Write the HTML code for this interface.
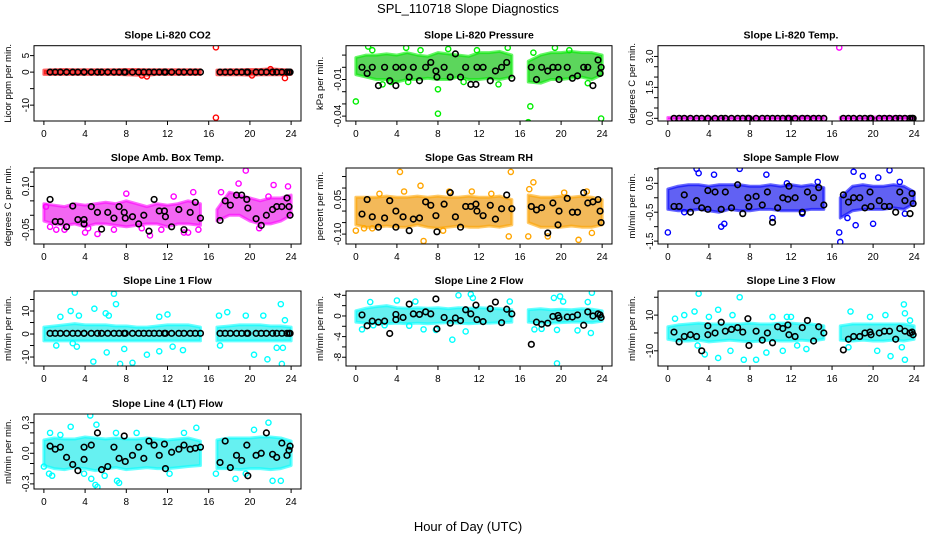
<!DOCTYPE html>
<html><head><meta charset="utf-8"><style>
body{margin:0;background:#fff}
svg{display:block;font-family:"Liberation Sans",sans-serif}
</style></head><body>
<svg id="c" width="936" height="540" viewBox="0 0 936 540">
<text x="468" y="13" text-anchor="middle" font-size="13">SPL_110718  Slope Diagnostics</text>
<text x="468" y="531" text-anchor="middle" font-size="13">Hour of Day (UTC)</text>
</svg>
<script>
// shared hours
const H1 = [0,1,2,3,4,5,6,7,8,9,10,11,12,13,14,15.2];
const H2 = [16.8,18,19,20,21,22,23,24];
const BX = [0.6,1.1,1.6,2.2,2.8,3.3,3.9,3.9,4.6,5.2,5.6,6.2,6.8,7.3,7.8,7.9,8.6,9.2,9.7,10.2,10.7,11.2,11.7,11.8,12.4,13.1,13.6,14.2,14.7,15.2,17.1,17.6,18.1,18.7,19.2,19.7,19.8,20.6,21.1,21.6,22.2,22.6,23.1,23.6,23.8,23.9];
const xTicks = [0,4,8,12,16,20,24];

// Panel 1 CO2
const p1Lo1 = [-0.7,-0.7,-0.7,-0.7,-0.7,-0.7,-0.7,-0.7,-0.8,-0.9,-0.9,-0.7,-0.7,-0.7,-0.7,-0.7];
const p1Hi1 = [0.6,0.7,0.8,0.7,0.7,0.7,0.7,0.7,0.8,0.8,0.7,0.7,0.7,0.7,0.7,0.7];
const p1Lo2 = [-0.8,-0.8,-0.8,-0.9,-0.8,-0.8,-0.8,-0.7];
const p1Hi2 = [0.6,0.7,0.7,0.8,0.8,1.0,0.8,0.6];
const p1OX = [16.7,16.7,23.4,10,22,20.2,9.5];
const p1OY = [7.5,-13.8,-1.8,-1.3,0.9,-1.0,-1.0];
const p1BY = BX.map(()=>0);

// Panel 2 Pressure
const p2Lo1 = [-0.006,-0.008,-0.01,-0.01,-0.012,-0.01,-0.01,-0.009,-0.01,-0.01,-0.008,-0.01,-0.01,-0.009,-0.01,-0.008];
const p2Hi1 = [0.008,0.01,0.01,0.011,0.01,0.012,0.01,0.009,0.012,0.011,0.01,0.009,0.012,0.012,0.013,0.01];
const p2Lo2 = [-0.012,-0.013,-0.01,-0.01,-0.009,-0.008,-0.01,-0.006];
const p2Hi2 = [0.005,0.01,0.012,0.012,0.013,0.012,0.012,0.01];
const p2OX = [0,8,8,16.8,17,23.9,1.2,4.9,14.8,19.4,1.6,6.3,9,11.8,17.3,20.8,2.6,13.9,22.6,5.1,3.4,10.5];
const p2OY = [-0.028,-0.038,-0.018,-0.045,-0.032,-0.042,0.017,0.016,0.016,0.016,0.014,0.014,0.015,0.014,0.012,0.014,-0.014,-0.014,-0.013,-0.012,-0.012,-0.012];
const p2BY = [0,-0.005,0,-0.015,0,-0.011,0,-0.015,0,-0.008,0,-0.011,0,0.004,-0.003,-0.008,0,-0.008,0.011,-0.008,0,-0.014,-0.014,0,0,-0.011,-0.003,0,0.004,-0.009,0,-0.01,0,-0.003,0,0,-0.01,0,-0.009,-0.007,0,0,-0.015,0.006,-0.005,0];

// Panel 3 Temp
const p3Lo1 = H1.map(()=>-0.04);
const p3Hi1 = [0.04,0.06,0.06,0.05,0.05,0.05,0.05,0.05,0.05,0.05,0.05,0.06,0.08,0.08,0.08,0.06];
const p3Lo2 = H2.map(()=>-0.04);
const p3Hi2 = [0.05,0.05,0.05,0.06,0.08,0.08,0.08,0.06];
const p3OX = [16.7];
const p3OY = [3.43];
const p3BY = BX.map(()=>0);

// Panel 4 Amb Box Temp
const p4Lo1 = [-0.02,-0.03,-0.035,-0.03,-0.04,-0.03,-0.03,-0.035,-0.04,-0.035,-0.03,-0.03,-0.04,-0.03,-0.03,-0.035];
const p4Hi1 = [0.04,0.035,0.03,0.04,0.035,0.04,0.045,0.04,0.05,0.04,0.03,0.04,0.035,0.04,0.05,0.04];
const p4Lo2 = [-0.02,0.0,0.0,-0.02,-0.03,-0.03,-0.02,0.0];
const p4Hi2 = [0.02,0.08,0.07,0.06,0.05,0.06,0.06,0.07];
const p4OX = [19.6,10.3,5.2,4,14,13.6,18.9,22.3,23.7,2,0.2,0.6,8,12.6,14.5,17.2,20.9,15,4.3,9.5,1.2,6.8,11.4,21.8];
const p4OY = [0.155,-0.07,-0.065,-0.06,-0.06,-0.06,0.11,0.105,0.10,-0.05,0.03,-0.04,0.075,0.065,0.08,0.08,-0.045,-0.05,-0.045,-0.045,-0.05,-0.05,-0.05,0.065];
const p4BY = [0.055,-0.022,-0.022,-0.04,0.032,-0.015,-0.015,-0.03,0.03,0.01,-0.048,0.01,-0.01,0.03,0.01,-0.01,-0.005,-0.03,0.0,-0.055,0.055,0.015,0.015,-0.005,-0.04,0.02,-0.05,0.01,0.045,-0.01,-0.018,0.05,0.035,0.07,0.07,0.055,0.025,-0.012,-0.035,0.0,0.02,0.03,0.03,0.06,0.03,0.0];

// Panel 5 Gas Stream RH
const p5Lo1 = [-0.06,-0.07,-0.07,-0.065,-0.07,-0.07,-0.06,-0.07,-0.075,-0.07,-0.065,-0.07,-0.07,-0.065,-0.07,-0.06];
const p5Hi1 = [0.06,0.06,0.06,0.065,0.06,0.06,0.065,0.06,0.065,0.06,0.06,0.065,0.06,0.06,0.065,0.05];
const p5Lo2 = [-0.05,-0.07,-0.07,-0.07,-0.065,-0.07,-0.07,-0.06];
const p5Hi2 = [0.07,0.06,0.06,0.065,0.06,0.065,0.06,0.05];
const p5OX = [4.3,15.1,6.3,17.3,16.9,4.7,11.3,6.6,21.7,14.9,16.8,0,0.8,23,18.7,1.6,9.1,2.3,13.2,20.3,22.5,8.5];
const p5OY = [0.17,0.17,0.11,0.125,0.095,0.085,0.085,-0.13,-0.125,-0.11,-0.11,-0.085,-0.075,-0.095,-0.11,-0.075,0.085,0.075,0.075,0.08,0.085,-0.085];
const p5BY = [-0.013,0.05,-0.025,-0.07,-0.03,0.045,0.0,-0.07,-0.025,-0.085,-0.035,-0.03,0.04,0.025,-0.02,-0.09,0.03,0.08,-0.025,-0.07,0.02,0.02,0.03,0.0,-0.02,0.025,-0.035,0.01,0.07,0.01,0.02,0.005,0.015,-0.095,0.035,-0.06,0.0,0.055,-0.005,-0.005,0.08,0.035,0.04,0.05,0.0,-0.05];

// Panel 6 Sample Flow
const p6Lo1 = [-0.4,-0.45,-0.45,-0.4,-0.45,-0.5,-0.4,-0.45,-0.45,-0.4,-0.4,-0.45,-0.45,-0.45,-0.4,-0.4];
const p6Hi1 = [0.3,0.4,0.45,0.45,0.4,0.45,0.45,0.45,0.4,0.4,0.45,0.4,0.45,0.4,0.45,0.35];
const p6Lo2 = [-0.7,-0.45,-0.4,-0.4,-0.4,-0.35,-0.4,-0.2];
const p6Hi2 = [0.0,0.4,0.45,0.4,0.4,0.45,0.4,0.2];
const p6OX = [0,16.7,16.8,5.2,5.5,2.8,7,21.6,18.1,20,18.3,9.6,10.2,19,20.5,17.5,4.5,1.6,13.1,3,11.6,14.6,22.6,23.1];
const p6OY = [-1.2,-1.2,-1.53,-1.0,-0.9,1.0,1.0,0.95,0.9,-0.9,-0.95,0.8,-0.7,0.75,0.7,-0.7,0.8,-0.5,-0.55,0.85,0.5,0.55,0.55,-0.55];
const p6BY = [-0.3,-0.3,0.1,-0.5,-0.1,-0.35,0.25,-0.4,0.2,-0.4,0.2,-0.35,0.45,-0.55,0.0,-0.3,0.05,-0.25,0.2,-0.85,-0.35,0.0,-0.05,0.4,0.0,-0.5,0.2,0.0,0.35,-0.25,0.1,-0.15,0.0,0.0,-0.35,0.2,-0.3,-0.1,-0.3,-0.3,-0.5,0.2,-0.1,-0.55,0.15,-0.2];

// Panel 7 Line 1 Flow
const p7Lo1 = H1.map(()=>-3);
const p7Hi1 = [3,3.5,4,4.5,4,4,4,3.5,3.5,3,3,3.5,4,4,4,3];
const p7Lo2 = H2.map(()=>-3);
const p7Hi2 = [3,3.5,4,4,4,3.5,3.5,3];
const p7OX = [3,6.8,7,23,2.6,4.9,17.8,12,1.6,3.4,6,6.3,11.2,17,19.6,21.3,23.4,7.4,8.6,4.8,21.7,23.1,20.4,10,11.2,13.5,6.1,23.2,22.6,17.1,12.5,7.8,1.2,3.2,2.8];
const p7OY = [18,17.5,13,13,10,11,9.5,8.5,7.5,8,9,8,7.5,8,8,8,6,-13,-12.5,-12,-11,-13,-9,-9,-7.5,-7,-8,-6,-6,-5,-5.5,-6.5,-5,-5.5,-4];
const p7BY = BX.map(()=>0.3);

// Panel 8 Line 2 Flow
const p8Lo1 = [-1.2,-1.4,-1.5,-1.5,-1.4,-1.5,-1.4,-1.5,-1.4,-1.3,-1.4,-1.5,-1.4,-1.4,-1.3,-1.2];
const p8Hi1 = [1.0,1.5,1.8,2.0,1.6,1.5,1.6,1.5,1.6,1.4,1.6,1.5,1.6,1.5,1.4,1.2];
const p8Lo2 = [-1.2,-1.4,-1.4,-1.3,-1.2,-1.2,-1.3,-1.0];
const p8Hi2 = [1.2,1.4,1.2,1.3,1.2,1.4,1.3,1.0];
const p8OX = [9.4,19.6,23,10,11.2,11.4,1.4,4,5.8,15,19.3,19.9,22.6,20.2,0.6,6.6,7.8,10.7,17.4,18.1,19.6,22.9,21.6,2.8,5.2,1.7];
const p8OY = [-4.6,-9.2,4.5,4,4.2,3.5,2.7,3,2.8,2.8,3.5,3.8,2.7,2.8,-2.6,-2.6,-2.7,-3,-2.6,-2.5,-2.7,-3.3,-2.8,-1.8,-1.9,-1.8];
const p8BY = [0.2,-1.9,-1,-1.2,-1,-3.4,0.3,-0.7,-0.3,2.3,0.4,0.3,0.8,0.4,3.3,-2.5,-0.3,-1.4,-0.4,-0.9,1.2,0.4,2.1,-0.7,-1.1,1.4,2.7,-1.3,1.3,0.4,-5.5,-1.2,-1.6,-1.4,-0.1,0.1,-0.4,-0.2,-0.2,0.2,-1.8,0.8,0.0,0.4,0.2,-0.3];

// Panel 9 Line 3 Flow
const p9Lo1 = [-3.5,-4.5,-4.5,-4,-5,-4.5,-4,-4.5,-5,-4.5,-4,-4.5,-4.5,-4,-4.5,-3.5];
const p9Hi1 = [3.5,4.5,5,5.5,5,5,5,5,5.5,5,5,5.5,5.5,5,5,4];
const p9Lo2 = [-4,-4.5,-4,-4.5,-4.5,-4,-4.5,-3.5];
const p9Hi2 = [4,5,5,5,5,5,5,4];
const p9OX = [3,7,23,23.1,0.7,2.6,4.9,6.3,1.6,17.8,19.7,23.6,4,10.2,12,11.6,21.2,3.6,4.9,7.4,8.6,6.1,9.6,11.2,19.6,21.7,23.1,22.8,20.4,13.5,12.6,17.6,2.9];
const p9OY = [22,20,16,11,8,12,13,10,10,12,9,7,9,9,9,9,10,-12,-14,-15,-15,-10,-11,-10,-20,-13,-15,-8,-10,-9,-7,-8,-7];
const p9BY = [0.5,-5,-2,-1,-2,-10,4,-1,0,6,1,2,3,0.5,8,-7,1,-4,0,-5.5,3.5,2.5,4.5,-1,-2,3,7,-4.5,3.5,0,-9.5,-3.5,-2,-2,0,0.5,-1,0,1,1,-3.5,2.5,1,0,0.5,-1];

// Panel 10 Line 4 (LT) Flow
const p10Lo1 = [-0.12,-0.15,-0.16,-0.14,-0.15,-0.17,-0.15,-0.14,-0.16,-0.15,-0.14,-0.15,-0.15,-0.14,-0.13,-0.12];
const p10Hi1 = [0.13,0.15,0.14,0.14,0.16,0.15,0.14,0.15,0.14,0.14,0.15,0.14,0.13,0.14,0.15,0.12];
const p10Lo2 = [-0.15,-0.15,-0.16,-0.15,-0.15,-0.16,-0.15,-0.12];
const p10Hi2 = [0.13,0.15,0.15,0.15,0.16,0.16,0.15,0.12];
const p10OX = [4.5,5.1,2.6,14.8,0.6,21.8,7,9,13.6,20.4,1.6,5,5.2,4.6,7.1,7.3,0.5,0.8,12.2,16.7,18.6,22.2,23,19.6,0,3.9,5.9];
const p10OY = [0.37,0.28,0.26,0.25,0.2,0.3,0.2,0.2,0.2,0.23,0.18,-0.31,-0.33,-0.25,-0.27,-0.29,-0.2,-0.22,-0.2,-0.2,-0.25,-0.27,-0.27,-0.2,-0.13,-0.2,-0.22];
const p10BY = [0.07,0.04,0.06,-0.04,-0.11,-0.17,0.06,-0.06,0.08,0.2,-0.16,-0.13,0.06,-0.05,0.17,-0.08,-0.02,0.06,-0.05,0.12,0.08,-0.02,0.09,-0.15,0.01,0.04,0.08,0.04,0.05,0.06,-0.09,0.12,-0.14,-0.02,-0.07,0.08,-0.22,-0.02,0.0,0.2,-0.01,-0.04,0.1,-0.02,0.03,0.07];

const panels = [
 {name:'co2',title:'Slope Li-820 CO2',yl:'Licor ppm per min.',col:0,row:0,c:'#ff0000',band:'#ee2020',ylim:[-14.8,8.0],ticks:[5,0,-5,-10],labels:['5','0','','-10'],lo1:p1Lo1,hi1:p1Hi1,lo2:p1Lo2,hi2:p1Hi2,ox:p1OX,oy:p1OY,by:p1BY},
 {name:'pressure',title:'Slope Li-820 Pressure',yl:'kPa per min.',col:1,row:0,c:'#00ee00',band:'#33cc33',ylim:[-0.044,0.0177],ticks:[0.01,0,-0.01,-0.02,-0.03,-0.04],labels:['','','-0.01','','','-0.04'],lo1:p2Lo1,hi1:p2Hi1,lo2:p2Lo2,hi2:p2Hi2,ox:p2OX,oy:p2OY,by:p2BY},
 {name:'temp',title:'Slope Li-820 Temp.',yl:'degrees C per min.',col:2,row:0,c:'#ff00ff',band:'#cc00cc',ylim:[-0.13,3.52],ticks:[0,0.5,1,1.5,2,2.5,3],labels:['0.0','','','1.5','','','3.0'],lo1:p3Lo1,hi1:p3Hi1,lo2:p3Lo2,hi2:p3Hi2,ox:p3OX,oy:p3OY,by:p3BY},
 {name:'amb-box-temp',title:'Slope Amb. Box Temp.',yl:'degrees C per min.',col:0,row:1,c:'#ff00ff',band:'#f040f0',ylim:[-0.0997,0.164],ticks:[0.15,0.1,0.05,0,-0.05],labels:['','0.10','','','-0.05'],lo1:p4Lo1,hi1:p4Hi1,lo2:p4Lo2,hi2:p4Hi2,ox:p4OX,oy:p4OY,by:p4BY},
 {name:'gas-stream-rh',title:'Slope Gas Stream RH',yl:'percent per min.',col:1,row:1,c:'#ffa500',band:'#f0a830',ylim:[-0.143,0.187],ticks:[0.15,0.1,0.05,0,-0.05,-0.1],labels:['','','0.05','','','-0.10'],lo1:p5Lo1,hi1:p5Hi1,lo2:p5Lo2,hi2:p5Hi2,ox:p5OX,oy:p5OY,by:p5BY},
 {name:'sample-flow',title:'Slope Sample Flow',yl:'ml/min per min.',col:2,row:1,c:'#0000ff',band:'#3a3af0',ylim:[-1.6,1.03],ticks:[1,0.5,0,-0.5,-1,-1.5],labels:['','0.5','','-0.5','','-1.5'],lo1:p6Lo1,hi1:p6Hi1,lo2:p6Lo2,hi2:p6Hi2,ox:p6OX,oy:p6OY,by:p6BY},
 {name:'line1-flow',title:'Slope Line 1 Flow',yl:'ml/min per min.',col:0,row:2,c:'#00ffff',band:'#40eeee',ylim:[-13.9,18.7],ticks:[15,10,5,0,-5,-10],labels:['','10','','0','','-10'],lo1:p7Lo1,hi1:p7Hi1,lo2:p7Lo2,hi2:p7Hi2,ox:p7OX,oy:p7OY,by:p7BY},
 {name:'line2-flow',title:'Slope Line 2 Flow',yl:'ml/min per min.',col:1,row:2,c:'#00ffff',band:'#40eeee',ylim:[-9.7,4.84],ticks:[4,2,0,-2,-4,-6,-8],labels:['4','','0','','-4','','-8'],lo1:p8Lo1,hi1:p8Hi1,lo2:p8Lo2,hi2:p8Hi2,ox:p8OX,oy:p8OY,by:p8BY},
 {name:'line3-flow',title:'Slope Line 3 Flow',yl:'ml/min per min.',col:2,row:2,c:'#00ffff',band:'#40eeee',ylim:[-18.5,23.5],ticks:[20,10,0,-10],labels:['','10','','-10'],lo1:p9Lo1,hi1:p9Hi1,lo2:p9Lo2,hi2:p9Hi2,ox:p9OX,oy:p9OY,by:p9BY},
 {name:'line4-flow',title:'Slope Line 4 (LT) Flow',yl:'ml/min per min.',col:0,row:3,c:'#00ffff',band:'#40eeee',ylim:[-0.35,0.385],ticks:[0.3,0.2,0.1,0,-0.1,-0.2,-0.3],labels:['0.3','','','0.0','','','-0.3'],lo1:p10Lo1,hi1:p10Hi1,lo2:p10Lo2,hi2:p10Hi2,ox:p10OX,oy:p10OY,by:p10BY}
];
const colX = [[34,301],[346,612],[658,924]];
const rowY = [[45.7,121],[168,244],[291,366],[414,489]];
const NS = 'http://www.w3.org/2000/svg';
const svg = document.getElementById('c');
function mk(tag, attrs, parent){const e=document.createElementNS(NS,tag);for(const k in attrs)e.setAttribute(k,attrs[k]);(parent||svg).appendChild(e);return e;}

panels.forEach(p=>{
  const [L,R]=colX[p.col], [T,B]=rowY[p.row];
  const xs = h => L + (h+0.96)/25.92*(R-L);
  const ys = v => B - (v-p.ylim[0])/(p.ylim[1]-p.ylim[0])*(B-T);
  const g = mk('g',{});
  
  
  const clip = mk('clipPath',{id:'cl-'+p.name},g);
  mk('rect',{x:L,y:T,width:R-L,height:B-T},clip);
  const plot = mk('g',{'clip-path':'url(#cl-'+p.name+')'},g);
  [[H1,p.lo1,p.hi1],[H2,p.lo2,p.hi2]].forEach((s,i)=>{
    const pts=[];
    s[0].forEach((h,j)=>pts.push(xs(h)+','+ys(s[2][j])));
    for(let j=s[0].length-1;j>=0;j--)pts.push(xs(s[0][j])+','+ys(s[1][j]));
    const poly=mk('polygon',{points:pts.join(' '),fill:p.band,'fill-opacity':0.8,stroke:p.c,'stroke-opacity':0.6,'stroke-width':3,'stroke-linejoin':'round'},plot);
    
    
  });
  p.ox.forEach((h,j)=>{
    const c=mk('circle',{cx:xs(h),cy:ys(p.oy[j]),r:2.6,fill:'none',stroke:p.c,'stroke-width':1.4},plot);
    
    
  });
  BX.forEach((h,j)=>{
    const c=mk('circle',{cx:xs(h),cy:ys(p.by[j]),r:2.8,fill:'none',stroke:'#000','stroke-width':1.6},plot);
    
    
  });
  const box=mk('rect',{x:L,y:T,width:R-L,height:B-T,fill:'none',stroke:'#000','stroke-width':1},g);
  
  
  xTicks.forEach(t=>{
    mk('line',{x1:xs(t),x2:xs(t),y1:B,y2:B+4,stroke:'#000'},g);
    const tx=mk('text',{x:xs(t),y:B+16,'text-anchor':'middle','font-size':10},g);
    tx.textContent=t;
    
    
  });
  p.ticks.forEach((t,j)=>{
    mk('line',{x1:L-4,x2:L,y1:ys(t),y2:ys(t),stroke:'#000'},g);
    if(p.labels[j]){
      const tx=mk('text',{x:L-5,y:ys(t),'text-anchor':'middle','font-size':10,transform:'rotate(-90 '+(L-5)+' '+ys(t)+')'},g);
      tx.textContent=p.labels[j];
      
      
    }
  });
  const yt=mk('text',{x:L-23,y:(T+B)/2,'text-anchor':'middle','font-size':9.5,transform:'rotate(-90 '+(L-23)+' '+((T+B)/2)+')'},g);
  yt.textContent=p.yl;
  
  
  const ti=mk('text',{x:(L+R)/2,y:T-7,'text-anchor':'middle','font-size':10.5,'font-weight':'bold'},g);
  ti.textContent=p.title;
  
  
});
</script>
</body></html>
